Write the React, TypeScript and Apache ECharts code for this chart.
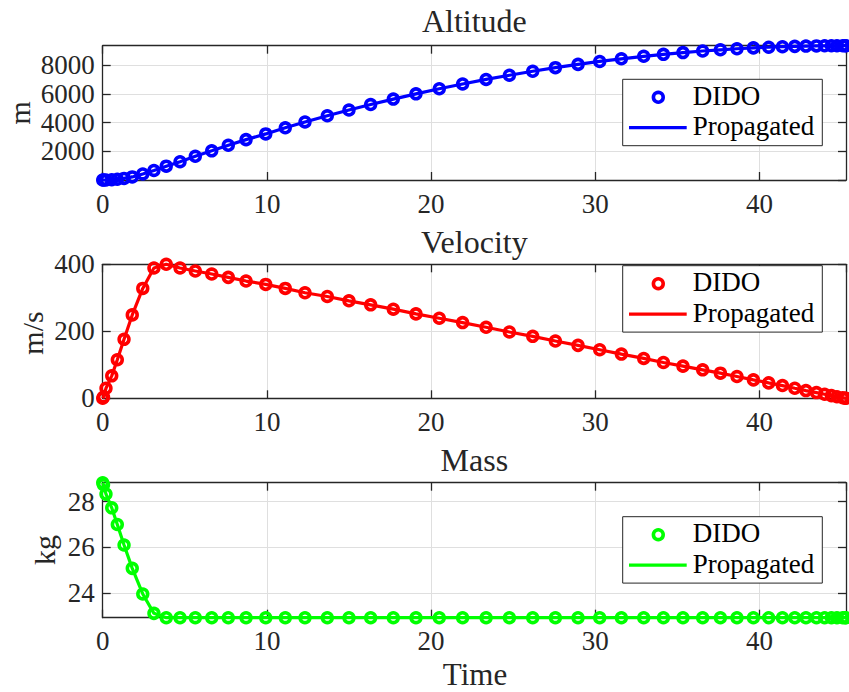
import React, { useEffect, useRef } from "react";
import * as echarts from "echarts";

// Collocation times (s) shared by all three states
const time = [
  0, 0.05, 0.2, 0.55, 0.89, 1.3, 1.8, 2.44, 3.12, 3.87, 4.71, 5.64, 6.64, 7.65,
  8.73, 9.93, 11.12, 12.32, 13.68, 15.0, 16.32, 17.7, 19.08, 20.5, 21.92,
  23.35, 24.77, 26.19, 27.57, 28.95, 30.27, 31.59, 32.95, 34.15, 35.34, 36.54,
  37.62, 38.63, 39.63, 40.56, 41.4, 42.15, 42.83, 43.47, 43.97, 44.38, 44.72,
  45.07, 45.22, 45.27,
];

// Altitude (m)
const altitude = [
  0, 0, 3, 20, 50, 110, 215, 420, 665, 965, 1275, 1655, 2035, 2420, 2815, 3215,
  3640, 4050, 4480, 4880, 5265, 5645, 6010, 6365, 6700, 7015, 7310, 7585, 7835,
  8065, 8270, 8455, 8628, 8765, 8887, 8997, 9083, 9155, 9215, 9262, 9297, 9322,
  9340, 9353, 9361, 9365, 9367, 9368, 9368, 9368,
];

// Velocity (m/s)
const velocity = [
  0, 4, 30, 67, 115, 176, 249, 328, 389, 400, 389, 380, 371, 361, 350, 340,
  328, 315, 304, 291, 279, 266, 252, 239, 226, 212, 198, 185, 171, 158, 145,
  132, 119, 107, 96, 85, 75, 65, 55, 46, 38, 30, 23, 17, 12, 8, 4.5, 1.8, 0.4, 0,
];

// Mass (kg)
const mass = [
  28.83, 28.74, 28.33, 27.73, 27.0, 26.1, 25.08, 23.96, 23.11, 22.92, 22.92,
  22.92, 22.92, 22.92, 22.92, 22.92, 22.92, 22.92, 22.92, 22.92, 22.92, 22.92,
  22.92, 22.92, 22.92, 22.92, 22.92, 22.92, 22.92, 22.92, 22.92, 22.92, 22.92,
  22.92, 22.92, 22.92, 22.92, 22.92, 22.92, 22.92, 22.92, 22.92, 22.92, 22.92,
  22.92, 22.92, 22.92, 22.92, 22.92, 22.92,
];

const panelTitles = ["Altitude", "Velocity", "Mass"];
const panelUnits = ["m", "m/s", "kg"];
const legendNames = ["DIDO", "Propagated"];
const xLabel = "Time";
const xTickStep = 10;

const FONT = "Liberation Serif, serif";
const INK = "#262626";
const GRID_LINE = "#dfdfdf";
const PLOT_LEFT = 102.7;
const PLOT_WIDTH = 743.3;
const LINE_W = 3.2;
const RING_W = 3.6;
const RING_R = 4.9;

const layout = [
  { top: 45.7, height: 134.3, titleY: 21, legendTop: 79.3, unitX: 19.3, unitY: 112.8 },
  { top: 264.3, height: 134, titleY: 241.5, legendTop: 265.7, unitX: 32.7, unitY: 333 },
  { top: 482.7, height: 135, titleY: 460, legendTop: 516.7, unitX: 44.7, unitY: 550 },
];

const panels = [
  { values: altitude, color: "#0000ff", yMin: 0, yMax: 9368, yStep: 2000, showMin: false, showMax: false },
  { values: velocity, color: "#ff0000", yMin: 0, yMax: 400, yStep: 200, showMin: true, showMax: true },
  { values: mass, color: "#00ff00", yMin: 22.92, yMax: 28.83, yStep: undefined, showMin: false, showMax: false },
];

const tEnd = time[time.length - 1];
const plain = (v: number) => String(v);

function buildOption() {
  const grid: any[] = [];
  const xAxis: any[] = [];
  const yAxis: any[] = [];
  const series: any[] = [];
  const elements: any[] = [];

  const lineStyle = { color: INK, width: 1.3 };
  const tick = { show: true, inside: true, length: 8, lineStyle };
  const label = { fontFamily: FONT, fontSize: 27, color: INK, formatter: plain };

  panels.forEach((p, i) => {
    const L = layout[i];
    grid.push({ left: PLOT_LEFT, top: L.top, width: PLOT_WIDTH, height: L.height, containLabel: false });

    const xBase = {
      type: "value",
      gridIndex: i,
      min: 0,
      max: tEnd,
      interval: xTickStep,
      axisLine: { show: true, onZero: false, lineStyle },
      axisTick: tick,
    };
    xAxis.push({
      ...xBase,
      position: "bottom",
      axisLabel: { ...label, show: true, margin: 10, showMinLabel: true, showMaxLabel: false },
      splitLine: { show: true, lineStyle: { color: GRID_LINE, width: 1 } },
    });
    xAxis.push({ ...xBase, position: "top", axisLabel: { show: false }, splitLine: { show: false } });

    const yBase: any = {
      type: "value",
      gridIndex: i,
      min: p.yMin,
      max: p.yMax,
      axisLine: { show: true, onZero: false, lineStyle },
      axisTick: tick,
    };
    if (p.yStep !== undefined) yBase.interval = p.yStep;
    else yBase.splitNumber = 3;
    yAxis.push({
      ...yBase,
      position: "left",
      axisLabel: { ...label, show: true, margin: 8, showMinLabel: p.showMin, showMaxLabel: p.showMax },
      splitLine: { show: true, lineStyle: { color: GRID_LINE, width: 1 } },
    });
    yAxis.push({ ...yBase, position: "right", axisLabel: { show: false }, splitLine: { show: false } });

    const pts = time.map((t, k) => [t, p.values[k]]);
    series.push({
      name: legendNames[0],
      type: "scatter",
      xAxisIndex: 2 * i,
      yAxisIndex: 2 * i,
      data: pts,
      symbol: "circle",
      symbolSize: RING_R * 2,
      clip: false,
      silent: true,
      itemStyle: { color: "rgba(255,255,255,0)", borderColor: p.color, borderWidth: RING_W, opacity: 1 },
    });
    series.push({
      name: legendNames[1],
      type: "line",
      xAxisIndex: 2 * i,
      yAxisIndex: 2 * i,
      data: pts,
      showSymbol: false,
      clip: false,
      silent: true,
      lineStyle: { color: p.color, width: LINE_W },
    });

    // title above each panel
    elements.push({
      type: "text",
      x: PLOT_LEFT + PLOT_WIDTH / 2,
      y: L.titleY,
      style: { text: panelTitles[i], fontFamily: FONT, fontSize: 32, fill: INK, align: "center", verticalAlign: "middle" },
    });
    // unit label
    elements.push({
      type: "text",
      x: L.unitX,
      y: L.unitY,
      rotation: Math.PI / 2,
      style: { text: panelUnits[i], fontFamily: FONT, fontSize: 30, fill: INK, align: "center", verticalAlign: "middle" },
    });

    // legend box
    const bt = L.legendTop;
    elements.push({
      type: "rect",
      z: 100,
      shape: { x: 622.7, y: bt, width: 199.6, height: 66.4 },
      style: { fill: "#ffffff", stroke: INK, lineWidth: 1 },
    });
    elements.push({
      type: "circle",
      z: 101,
      shape: { cx: 658.3, cy: bt + 18, r: RING_R },
      style: { fill: "none", stroke: p.color, lineWidth: RING_W },
    });
    elements.push({
      type: "line",
      z: 101,
      shape: { x1: 629, y1: bt + 48.4, x2: 686.7, y2: bt + 48.4 },
      style: { stroke: p.color, lineWidth: LINE_W },
    });
    elements.push({
      type: "text",
      z: 101,
      x: 692.7,
      y: bt + 16.5,
      style: { text: legendNames[0], fontFamily: FONT, fontSize: 27, fill: "#000", align: "left", verticalAlign: "middle" },
    });
    elements.push({
      type: "text",
      z: 101,
      x: 692.7,
      y: bt + 47,
      style: { text: legendNames[1], fontFamily: FONT, fontSize: 27, fill: "#000", align: "left", verticalAlign: "middle" },
    });
  });

  elements.push({
    type: "text",
    x: 475,
    y: 674.2,
    style: { text: xLabel, fontFamily: FONT, fontSize: 31, fill: INK, align: "center", verticalAlign: "middle" },
  });

  return {
    animation: false,
    backgroundColor: "#ffffff",
    grid,
    xAxis,
    yAxis,
    series,
    graphic: { elements },
  };
}

export default function App() {
  const ref = useRef<HTMLDivElement>(null);
  useEffect(() => {
    if (!ref.current) return;
    const chart = echarts.init(ref.current, undefined, { renderer: "svg" });
    chart.setOption(buildOption() as any);
    return () => chart.dispose();
  }, []);
  return (
    <div
      ref={ref}
      style={{ position: "absolute", left: 0, top: 0, width: 849, height: 692, background: "#fff" }}
    />
  );
}
